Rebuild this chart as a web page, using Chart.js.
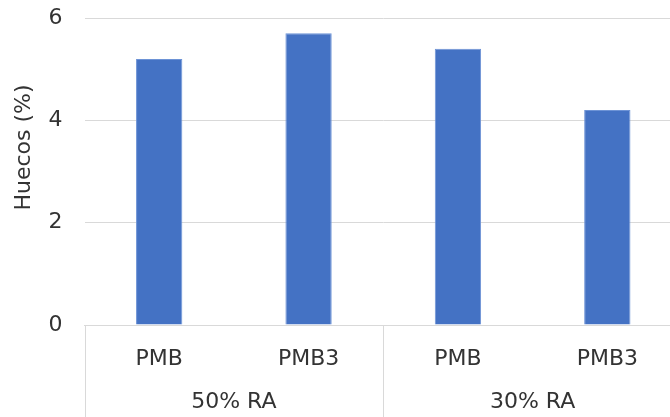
<!DOCTYPE html>
<html>
<head>
<meta charset="utf-8">
<script src="https://cdn.jsdelivr.net/npm/chart.js@4/dist/chart.umd.min.js"></script>
<style>
  html, body { margin: 0; padding: 0; background: #fff; overflow: hidden; }
  #wrap { position: relative; width: 682px; height: 417px; }
</style>
</head>
<body>
<div id="wrap"><canvas id="c" width="682" height="417"></canvas></div>
<script>
// Void content by binder type, grouped by reclaimed asphalt percentage
const binders = ['PMB', 'PMB3', 'PMB', 'PMB3'];
const groups = ['50% RA', '30% RA'];
const voids = [5.2, 5.7, 5.4, 4.2];
const yTicks = [0, 2, 4, 6];
const yTitle = 'Huecos (%)';

const FONT = '"DejaVu Sans", sans-serif';
const TEXT = '#333333';
const GRID = '#d9d9d9';

// Vertical separators under the axis, between category groups
const groupSeparators = {
  id: 'groupSeparators',
  afterDraw(chart) {
    const x = chart.scales.x;
    const ctx = chart.ctx;
    const per = binders.length / groups.length;
    const step = x.getPixelForValue(1) - x.getPixelForValue(0);
    ctx.save();
    ctx.strokeStyle = GRID;
    ctx.lineWidth = 1;
    for (let g = 0; g < groups.length; g++) {
      const px = x.getPixelForValue(g * per) - step / 2;
      const xp = Math.round(px) + 0.5;
      ctx.beginPath();
      ctx.moveTo(xp, chart.chartArea.bottom);
      ctx.lineTo(xp, chart.height);
      ctx.stroke();
    }
    ctx.restore();
  }
};

// Rotated value-axis title, sitting a little above the plot's middle
const valueTitle = {
  id: 'valueTitle',
  afterDraw(chart) {
    const y = chart.scales.y;
    const ctx = chart.ctx;
    const cy = (y.top + y.bottom) / 2 - 24;
    ctx.save();
    ctx.translate(24, cy);
    ctx.rotate(-Math.PI / 2);
    ctx.fillStyle = TEXT;
    ctx.font = '22px ' + FONT;
    ctx.textAlign = 'center';
    ctx.textBaseline = 'middle';
    ctx.fillText(yTitle, 0, 0);
    ctx.restore();
  }
};

new Chart(document.getElementById('c'), {
  type: 'bar',
  data: {
    labels: binders,
    datasets: [{
      data: voids,
      backgroundColor: '#4472C4',
      borderColor: '#6d93d6',
      borderWidth: 1,
      barPercentage: 0.31,
      categoryPercentage: 1.0,
      xAxisID: 'x'
    }]
  },
  options: {
    responsive: false,
    animation: false,
    devicePixelRatio: 1,
    layout: { padding: { top: 18, right: 0, left: 0, bottom: 0 } },
    plugins: { legend: { display: false }, tooltip: { enabled: false } },
    scales: {
      y: {
        min: 0, max: 6,
        afterBuildTicks(s) { s.ticks = yTicks.map(v => ({ value: v })); },
        afterFit(s) { s.width = 84.5; s.paddingTop = 0; s.paddingBottom = 0; },
        border: { display: false },
        grid: { color: GRID, drawTicks: false, lineWidth: 1 },
        ticks: { color: TEXT, font: { family: FONT, size: 22 }, padding: 22 }
      },
      x: {
        position: 'bottom',
        afterFit(s) { s.height = 55; s.paddingLeft = 0; s.paddingRight = 0; },
        border: { display: true, color: GRID },
        grid: { display: false, drawTicks: false },
        ticks: { color: TEXT, font: { family: FONT, size: 22 }, padding: 21, maxRotation: 0 }
      },
      x2: {
        type: 'category',
        position: 'bottom',
        labels: groups,
        offset: true,
        afterFit(s) { s.height = 37; s.paddingLeft = 0; s.paddingRight = 0; },
        border: { display: false },
        grid: { display: false, drawTicks: false },
        ticks: { color: TEXT, font: { family: FONT, size: 22 }, padding: 9, maxRotation: 0 }
      }
    }
  },
  plugins: [groupSeparators, valueTitle]
});
</script>
</body>
</html>
